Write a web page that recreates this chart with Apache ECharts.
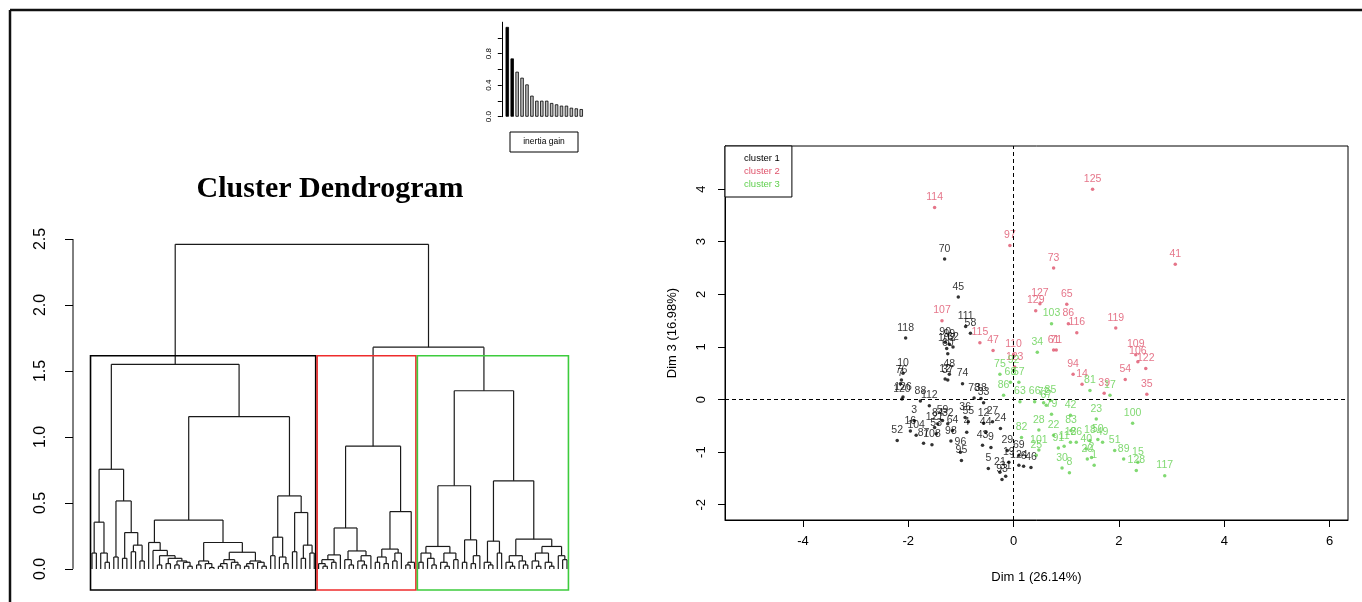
<!DOCTYPE html>
<html>
<head>
<meta charset="utf-8">
<script src="https://cdn.jsdelivr.net/npm/echarts@6/dist/echarts.min.js"></script>
<style>html,body{margin:0;padding:0;background:#fff;}#c{width:1362px;height:602px;}</style>
</head>
<body>
<div id="c"></div>
<script>
// ---------- DATA ----------
// Dendrogram: node = [mergeHeight, leftChild, rightChild], leaf = 0
const dendroCluster1 = [1.55,
  [0.755,
    [0.354, [0.12,0,0], [0.12,0,[0.05,0,0]]],
    [0.515, [0.09,0,0], [0.275, [0.08,0,0], [0.18,[0.13,0,0],[0.06,0,0]]]]
  ],
  [1.154,
    [0.37,
      [0.2, 0, [0.14, 0, [0.1, [0.03,0,0], [0.08, [0.04,0,0], [0.06,[0.03,0,0],[0.05,0,[0.02,0,0]]]]]]],
      [0.2,
        [0.06,[0.03,0,0],[0.04,0,[0.01,0,0]]],
        [0.126,
          [0.07,[0.04,[0.02,0,0],0],[0.05,0,[0.03,0,0]]],
          [0.06,[0.04,[0.02,0,0],0],[0.05,0,[0.02,0,0]]]
        ]
      ]
    ],
    [0.553,
      [0.24, [0.1,0,0], [0.09,0,[0.04,0,0]]],
      [0.427, [0.13,0,0], [0.18,[0.08,0,0],[0.12,0,0]]]
    ]
  ]
];
const dendroCluster2 = [0.93,
  [0.31,
    [0.106, [0.07,[0.04,0,[0.02,0,0]],[0.05,0,0]], 0],
    [0.136, [0.07,0,[0.03,0,0]], [0.1,[0.06,0,[0.03,0,0]],0]]
  ],
  [0.434,
    [0.15, [0.09,[0.05,0,0],[0.04,0,0]], [0.12,[0.06,0,0],0]],
    [0.05,[0.03,0,0],0]
  ]
];
const dendroCluster3 = [1.35,
  [0.63,
    [0.17, [0.12,[0.05,0,0],[0.08,0,[0.03,0,0]]], [0.12,[0.05,0,[0.02,0,0]],[0.07,0,0]]],
    [0.22, [0.05,0,0], [0.1,[0.04,0,0],0]]
  ],
  [0.667,
    [0.21, [0.05,0,[0.03,0,0]], [0.12,0,0]],
    [0.225,
      [0.1,[0.05,0,[0.02,0,0]],[0.06,0,[0.03,0,0]]],
      [0.17, [0.12,[0.06,0,[0.02,0,0]],[0.05,0,[0.02,0,0]]], [0.1,0,[0.07,0,0]]]
    ]
  ]
];
const mergeHeightClusters23 = 1.68;
const mergeHeightRoot = 2.46;
const dendroTicks = [0, 0.5, 1.0, 1.5, 2.0, 2.5];
const clusterBoxColors = ['#000000', '#EE2C2C', '#3DCC3D'];

// Inertia gain barplot
const inertiaGain = [1.14, 0.74, 0.571, 0.495, 0.41, 0.267, 0.203, 0.203, 0.203, 0.174, 0.157, 0.14, 0.14, 0.114, 0.106, 0.097];
const inertiaTicks = [0, 0.2, 0.4, 0.6, 0.8, 1.0];
const inertiaLabels = [0, 0.4, 0.8];

// Factor map: [Dim 1, Dim 3, individual]
const cluster1Points = [
  [-1.31,2.67,'70'],[-1.05,1.95,'45'],[-0.91,1.39,'111'],[-0.82,1.26,'58'],[-2.05,1.17,'118'],
  [-1.30,1.09,'90'],[-1.22,1.05,'99'],[-1.27,0.97,'102'],[-1.15,1.00,'62'],[-1.25,0.87,'60'],
  [-2.10,0.50,'10'],[-2.13,0.37,'76'],[-2.15,0.30,'7'],[-2.10,0.05,'126'],[-2.12,0.01,'120'],
  [-1.77,-0.03,'88'],[-1.30,0.39,'12'],[-1.22,0.48,'48'],[-1.25,0.37,'37'],[-0.97,0.30,'74'],
  [-0.75,0.03,'78'],[-0.62,0.02,'38'],[-0.57,-0.06,'33'],[-1.60,-0.12,'112'],[-1.89,-0.40,'3'],
  [-1.96,-0.60,'16'],[-2.21,-0.78,'52'],[-1.85,-0.68,'104'],[-1.71,-0.83,'87'],[-1.55,-0.86,'108'],
  [-1.50,-0.53,'121'],[-1.44,-0.46,'84'],[-1.35,-0.40,'59'],[-1.25,-0.46,'32'],[-1.16,-0.59,'64'],
  [-1.47,-0.65,'53'],[-1.19,-0.79,'98'],[-1.01,-1.00,'96'],[-0.99,-1.16,'95'],[-0.92,-0.34,'36'],
  [-0.86,-0.42,'55'],[-0.89,-0.62,'4'],[-0.59,-0.87,'43'],[-0.53,-0.62,'44'],[-0.43,-0.91,'9'],
  [-0.57,-0.45,'12'],[-0.40,-0.42,'27'],[-0.25,-0.55,'24'],[-0.12,-0.97,'29'],[-0.48,-1.31,'5'],
  [-0.26,-1.38,'21'],[-0.15,-1.46,'31'],[-0.22,-1.52,'93'],[-0.09,-1.19,'19'],[0.10,-1.06,'69'],
  [0.10,-1.25,'124'],[0.19,-1.27,'6'],[0.33,-1.29,'46']
];
const cluster2Points = [
  [-1.50,3.65,'114'],[-0.07,2.93,'97'],[-1.36,1.50,'107'],[-0.64,1.08,'115'],[-0.39,0.93,'47'],
  [0.00,0.85,'110'],[0.02,0.62,'123'],[1.50,4.00,'125'],[3.07,2.57,'41'],[0.76,2.50,'73'],
  [0.50,1.82,'127'],[0.42,1.69,'129'],[1.01,1.81,'65'],[1.04,1.44,'86'],[1.20,1.27,'116'],
  [1.94,1.36,'119'],[0.76,0.94,'61'],[0.81,0.94,'71'],[2.32,0.85,'109'],[2.36,0.72,'106'],
  [2.51,0.59,'122'],[1.13,0.48,'94'],[2.12,0.38,'54'],[1.30,0.29,'14'],[1.72,0.12,'39'],
  [2.53,0.10,'35']
];
const cluster3Points = [
  [0.72,1.44,'103'],[0.45,0.90,'34'],[-0.26,0.48,'75'],[0.00,0.55,'92'],[-0.06,0.33,'68'],
  [-0.19,0.08,'86'],[0.10,0.33,'57'],[0.12,-0.04,'63'],[0.40,-0.04,'66'],[0.57,-0.06,'72'],
  [0.70,-0.02,'85'],[0.62,-0.11,'67'],[0.72,-0.28,'79'],[1.08,-0.30,'42'],[1.57,-0.37,'23'],
  [2.26,-0.45,'100'],[1.45,0.17,'81'],[1.83,0.08,'17'],[0.15,-0.72,'82'],[0.48,-0.58,'28'],
  [0.76,-0.68,'22'],[1.09,-0.59,'83'],[0.48,-0.96,'101'],[0.43,-1.06,'25'],[0.85,-0.92,'91'],
  [0.96,-0.89,'11'],[1.08,-0.81,'13'],[1.19,-0.81,'26'],[1.45,-0.78,'18'],[1.69,-0.81,'49'],
  [1.60,-0.76,'50'],[1.38,-0.94,'40'],[1.40,-1.13,'20'],[1.48,-1.10,'2'],[1.53,-1.25,'1'],
  [1.92,-0.97,'51'],[2.09,-1.13,'89'],[2.36,-1.19,'15'],[2.33,-1.35,'128'],[2.87,-1.45,'117'],
  [0.92,-1.30,'30'],[1.06,-1.39,'8']
];
const factorXTicks = [-4, -2, 0, 2, 4, 6];
const factorYTicks = [-2, -1, 0, 1, 2, 3, 4];
const clusterNames = ['cluster 1', 'cluster 2', 'cluster 3'];
const clusterColors = ['#000000', '#DF536B', '#61D04F'];

// ---------- DENDROGRAM LAYOUT (leaf order -> x, merge height -> y) ----------
const segments = [];
let leafCounter = 0;
function walk(node) {
  if (node === 0) { return { x: leafCounter++, h: 0 }; }
  const L = walk(node[1]);
  const R = walk(node[2]);
  const h = node[0];
  segments.push([L.x, L.h, L.x, h], [R.x, R.h, R.x, h], [L.x, h, R.x, h]);
  return { x: (L.x + R.x) / 2, h: h };
}
const clusterRanges = [];
function walkCluster(tree) {
  const start = leafCounter;
  const r = walk(tree);
  clusterRanges.push([start, leafCounter - 1]);
  return r;
}
const c1 = walkCluster(dendroCluster1);
const c2 = walkCluster(dendroCluster2);
const c3 = walkCluster(dendroCluster3);
const c23 = { x: (c2.x + c3.x) / 2, h: mergeHeightClusters23 };
segments.push([c2.x, c2.h, c2.x, c23.h], [c3.x, c3.h, c3.x, c23.h], [c2.x, c23.h, c3.x, c23.h]);
segments.push([c1.x, c1.h, c1.x, mergeHeightRoot], [c23.x, c23.h, c23.x, mergeHeightRoot], [c1.x, mergeHeightRoot, c23.x, mergeHeightRoot]);
const nLeaves = leafCounter;
const dendroYMin = -0.16;
const dendroXMin = -4.36;
const boxTop = (dendroCluster1[0] + mergeHeightClusters23) / 2;
const boxes = clusterRanges.map((r, i) => [r[0] - 0.34, r[1] + 0.33, dendroYMin, boxTop, i]);
// y-axis line spans only the tick range (R style)
const dendroAxisLine = [[dendroXMin, dendroTicks[0], dendroXMin, dendroTicks[dendroTicks.length - 1]]];

const FONT = 'Liberation Sans, Arial, Helvetica, sans-serif';
const chart = echarts.init(document.getElementById('c'));

function segmentRenderer(color, width) {
  return function (params, api) {
    const p1 = api.coord([api.value(0), api.value(1)]);
    const p2 = api.coord([api.value(2), api.value(3)]);
    return { type: 'line', shape: { x1: p1[0], y1: p1[1], x2: p2[0], y2: p2[1] }, style: { stroke: color, lineWidth: width, fill: null } };
  };
}

chart.setOption({
  backgroundColor: '#ffffff',
  animation: false,
  textStyle: { fontFamily: FONT },
  legend: {
    data: clusterNames.map((n, i) => ({ name: n, icon: 'none', textStyle: { color: clusterColors[i] } })),
    orient: 'vertical', left: 725, top: 146,
    itemWidth: 10, itemHeight: 6, itemGap: 2,
    padding: [7, 12, 7, 4],
    borderColor: '#000', borderWidth: 1, backgroundColor: '#fff',
    textStyle: { fontSize: 9.5, fontFamily: FONT, lineHeight: 11 },
    selectedMode: false
  },
  grid: [
    { left: 73, top: 239, width: 513, height: 351 },
    { left: 504.8, top: 22.2, width: 78.9, height: 94.5 },
    { left: 725, top: 146, width: 623, height: 374, show: true, borderColor: '#000', borderWidth: 1, backgroundColor: 'transparent' }
  ],
  xAxis: [
    { type: 'value', gridIndex: 0, min: dendroXMin, max: nLeaves - 1 - dendroXMin, show: false },
    { type: 'category', gridIndex: 1, data: inertiaGain.map((v, i) => i + 1), show: false },
    { type: 'value', gridIndex: 2, min: -5.48, max: 6.35,
      name: 'Dim 1 (26.14%)', nameLocation: 'middle', nameGap: 51,
      nameTextStyle: { fontSize: 13, color: '#000', fontFamily: FONT },
      axisLine: { show: true, onZero: false, lineStyle: { color: '#000', width: 1 } },
      axisTick: { show: true, length: 7, lineStyle: { color: '#000' }, customValues: factorXTicks },
      axisLabel: { fontSize: 13, color: '#000', margin: 15, customValues: factorXTicks, formatter: v => String(v) },
      splitLine: { show: false } }
  ],
  yAxis: [
    { type: 'value', gridIndex: 0, min: dendroYMin, max: 2.5,
      axisLine: { show: false, onZero: false },
      axisTick: { show: true, length: 8, lineStyle: { color: '#000' }, customValues: dendroTicks },
      axisLabel: { fontSize: 16, color: '#000', rotate: 90, margin: 24, customValues: dendroTicks, formatter: v => v.toFixed(1) },
      splitLine: { show: false } },
    { type: 'value', gridIndex: 1, min: 0, max: 1.2, offset: 3,
      axisLine: { show: true, lineStyle: { color: '#000', width: 1 } },
      axisTick: { show: true, length: 4, lineStyle: { color: '#000' }, customValues: inertiaTicks },
      axisLabel: { fontSize: 8, color: '#000', rotate: 90, margin: 9, customValues: inertiaLabels, formatter: v => v.toFixed(1) },
      splitLine: { show: false } },
    { type: 'value', gridIndex: 2, min: -2.29, max: 4.82,
      name: 'Dim 3 (16.98%)', nameLocation: 'middle', nameGap: 46,
      nameTextStyle: { fontSize: 13, color: '#000', fontFamily: FONT },
      axisLine: { show: true, onZero: false, lineStyle: { color: '#000', width: 1 } },
      axisTick: { show: true, length: 7, lineStyle: { color: '#000' }, customValues: factorYTicks },
      axisLabel: { fontSize: 13, color: '#000', rotate: 90, margin: 17, customValues: factorYTicks, formatter: v => String(v) },
      splitLine: { show: false } }
  ],
  graphic: [
    { type: 'line', shape: { x1: 10, y1: 10, x2: 1362, y2: 10 }, style: { stroke: '#111', lineWidth: 2.5 } },
    { type: 'line', shape: { x1: 10, y1: 10, x2: 10, y2: 602 }, style: { stroke: '#111', lineWidth: 2.5 } },
    { type: 'text', x: 330, y: 189, style: { text: 'Cluster Dendrogram', fontFamily: 'Liberation Serif, Times New Roman, serif', fontWeight: 'bold', fontSize: 30, fill: '#000', textAlign: 'center', textVerticalAlign: 'middle' } },
    { type: 'rect', shape: { x: 510, y: 132, width: 68, height: 20 }, style: { fill: 'none', stroke: '#000', lineWidth: 1 } },
    { type: 'text', x: 544, y: 142, style: { text: 'inertia gain', fontFamily: FONT, fontSize: 8.5, fill: '#000', textAlign: 'center', textVerticalAlign: 'middle' } }
  ],
  series: [
    { type: 'custom', xAxisIndex: 0, yAxisIndex: 0, clip: false, silent: true,
      encode: { x: [0, 2], y: [1, 3] },
      data: segments,
      renderItem: segmentRenderer('#1a1a1a', 1.2) },
    { type: 'custom', xAxisIndex: 0, yAxisIndex: 0, clip: false, silent: true,
      encode: { x: [0, 2], y: [1, 3] },
      data: dendroAxisLine,
      renderItem: segmentRenderer('#000', 1) },
    { type: 'custom', xAxisIndex: 0, yAxisIndex: 0, clip: false, silent: true,
      encode: { x: [0, 1], y: [2, 3] },
      data: boxes,
      renderItem: function (params, api) {
        const a = api.coord([api.value(0), api.value(3)]);
        const b = api.coord([api.value(1), api.value(2)]);
        return { type: 'rect', shape: { x: a[0], y: a[1], width: b[0] - a[0], height: b[1] - a[1] }, style: { stroke: clusterBoxColors[api.value(4)], lineWidth: 1.6, fill: null } };
      } },
    { type: 'bar', xAxisIndex: 1, yAxisIndex: 1, barWidth: 3.4, silent: true,
      data: inertiaGain.map((v, i) => ({ value: v, itemStyle: { color: i < 2 ? '#000' : '#BEBEBE', borderColor: '#000', borderWidth: 0.8 } })) },
    ...clusterNames.map((name, i) => ({
      type: 'scatter', name: name, xAxisIndex: 2, yAxisIndex: 2,
      data: [cluster1Points, cluster2Points, cluster3Points][i],
      symbol: 'circle', symbolSize: 3.5,
      itemStyle: { color: clusterColors[i] },
      label: { show: true, position: 'top', distance: 3, formatter: p => p.value[2], fontSize: 10.5, color: clusterColors[i], fontFamily: FONT },
      markLine: i === 2 ? {
        silent: true, symbol: 'none', label: { show: false },
        lineStyle: { color: '#000', type: [4, 3], width: 1 },
        data: [{ xAxis: 0 }, { yAxis: 0 }]
      } : undefined
    }))
  ]
});
</script>
</body>
</html>
